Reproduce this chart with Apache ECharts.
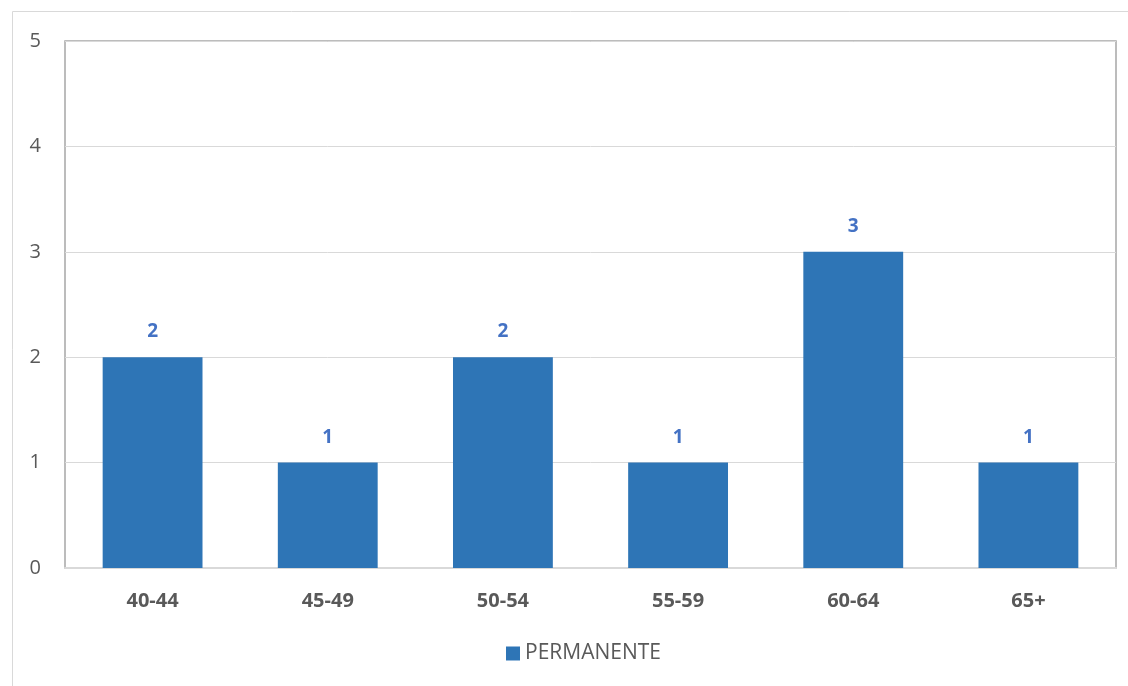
<!DOCTYPE html>
<html>
<head>
<meta charset="utf-8">
<script src="https://cdn.jsdelivr.net/npm/echarts@6/dist/echarts.min.js"></script>
<style>
html,body{margin:0;padding:0;background:#fff;}
#c{width:1128px;height:686px;}
</style>
</head>
<body>
<div id="c"></div>
<script>
const categories = ['40-44', '45-49', '50-54', '55-59', '60-64', '65+'];
const permanente = [2, 1, 2, 1, 3, 1];
const seriesName = 'PERMANENTE';

const chart = echarts.init(document.getElementById('c'));
const font = '"Open Sans", "Liberation Sans", sans-serif';
chart.setOption({
  animation: false,
  textStyle: { fontFamily: font },
  graphic: [{
    type: 'rect',
    shape: { x: 12.5, y: 11.5, width: 1300, height: 1000 },
    style: { fill: 'none', stroke: '#d9d9d9', lineWidth: 1 },
    z: -1
  }],
  grid: {
    left: 65, right: 12, top: 41, bottom: 118,
    show: true, borderColor: '#a6a6a6', borderWidth: 1.5, backgroundColor: 'transparent'
  },
  legend: {
    bottom: 17, left: 501,
    itemWidth: 14, itemHeight: 14, itemGap: 7,
    icon: 'rect',
    textStyle: { fontSize: 21, color: '#595959', fontFamily: font },
    data: [seriesName]
  },
  xAxis: {
    type: 'category',
    data: categories,
    axisLine: { show: true, lineStyle: { color: '#d9d9d9', width: 2 } },
    axisTick: { show: false },
    axisLabel: { fontSize: 20, fontWeight: 'bold', color: '#595959', margin: 23, fontFamily: font }
  },
  yAxis: {
    type: 'value',
    min: 0, max: 5, interval: 1,
    axisLine: { show: false },
    axisTick: { show: false },
    axisLabel: { fontSize: 20, color: '#595959', margin: 24, fontFamily: font },
    splitLine: { lineStyle: { color: '#d9d9d9', width: 1 } }
  },
  series: [{
    name: seriesName,
    type: 'bar',
    data: permanente,
    barWidth: '57%',
    itemStyle: { color: '#2e75b6' },
    label: {
      show: true, position: 'top', distance: 16,
      fontSize: 19, fontWeight: 'bold', color: '#4472c4', fontFamily: font
    }
  }]
});
</script>
</body>
</html>
